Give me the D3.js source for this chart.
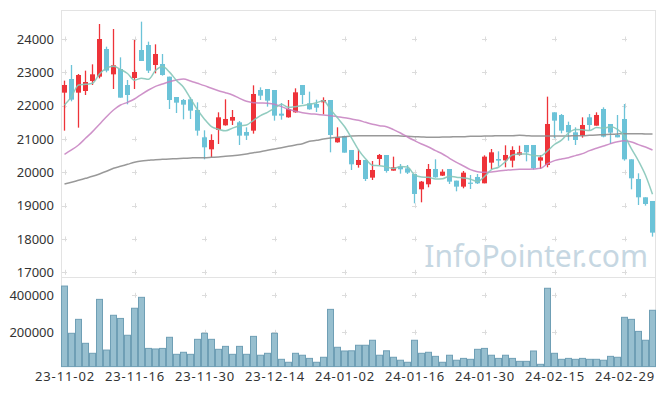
<!DOCTYPE html>
<html><head><meta charset="utf-8">
<script src="https://cdn.jsdelivr.net/npm/d3@7"></script>
<style>html,body{margin:0;padding:0;background:#fff;}svg{display:block;}</style>
</head><body><svg id="c" width="665" height="396"></svg>
<script>
const dates = ["23-11-02","23-11-03","23-11-06","23-11-07","23-11-08","23-11-09","23-11-10","23-11-13","23-11-14","23-11-15","23-11-16","23-11-17","23-11-20","23-11-21","23-11-22","23-11-23","23-11-24","23-11-27","23-11-28","23-11-29","23-11-30",
"23-12-01","23-12-04","23-12-05","23-12-06","23-12-07","23-12-08","23-12-11","23-12-12","23-12-13","23-12-14","23-12-15","23-12-18","23-12-19","23-12-20","23-12-21","23-12-22","23-12-26","23-12-27","23-12-28",
"24-01-02","24-01-03","24-01-04","24-01-05","24-01-08","24-01-09","24-01-10","24-01-11","24-01-12","24-01-15","24-01-16","24-01-17","24-01-18","24-01-19","24-01-22","24-01-23","24-01-24","24-01-25","24-01-26","24-01-29","24-01-30","24-01-31",
"24-02-01","24-02-02","24-02-05","24-02-06","24-02-07","24-02-08","24-02-13","24-02-14","24-02-15","24-02-16","24-02-19","24-02-20","24-02-21","24-02-22","24-02-23","24-02-26","24-02-27","24-02-28","24-02-29",
"24-03-04","24-03-05","24-03-06","24-03-07"];
const openP  = [22390,22800,22390,22440,22740,22870,23700,22940,23100,22620,22830,23670,23820,23220,23250,22870,22260,22170,22190,21870,21050,20690,21270,21410,21550,21500,21210,21250,22470,22500,22470,21760,21650,21800,22620,22070,22050,22100,22170,20900,21090,20670,20220,20370,19840,20400,20520,20050,20170,20120,19950,19490,19640,20100,19900,20100,19750,19570,19690,19860,19670,20290,20400,20360,20350,20520,20820,20820,20350,20220,21800,21720,21420,21200,21100,21650,21400,21900,21450,21120,21600,20390,19800,19250,19140];
const highP  = [22750,23220,22950,23050,23240,24450,23770,24300,23450,22770,23970,24520,23920,23840,23550,22870,22260,22200,22250,22100,21260,21140,21800,22190,21870,21540,21350,22610,22550,22500,22470,22080,22170,22520,22620,22420,22180,22250,22170,21350,21100,20670,20680,20370,20340,20550,20520,20470,20250,20220,19950,19740,20250,20390,20090,20100,19750,20040,19920,19950,20510,20700,20630,20810,20780,20800,20820,20820,20520,22270,21800,21750,21520,21350,21650,21750,21800,21950,21450,21720,22050,20390,19970,19250,19140];
const lowP   = [21250,22130,21340,22320,22620,22820,23000,22500,22240,22040,22500,23340,22980,22970,22900,21900,21780,21590,21600,21100,20390,20450,20850,21400,21420,20820,20970,21160,22170,21970,21550,21580,21640,21790,22050,21880,21810,21740,20600,20890,20590,20070,20140,19740,19770,20220,19990,20050,19960,19950,19070,19100,19550,19840,19890,19650,19430,19520,19500,19650,19670,20100,20180,20150,20150,20500,20330,20080,20100,20150,21020,21170,20950,20820,21040,21270,21400,21050,20850,21050,20350,19490,19020,19000,18070];
const closeP = [22620,22180,22920,22710,22940,24000,23050,23210,22240,22320,23010,23340,23050,23550,22920,22170,22090,22030,21850,21250,20750,20970,21650,21600,21660,21100,21100,22350,22300,22150,21700,21700,21900,22400,22320,21890,21940,22170,21120,21050,20590,20240,20370,19800,20070,20520,20040,20150,20090,19990,19350,19720,20100,19850,20020,19720,19570,19990,19670,19670,20470,20600,20350,20520,20670,20600,20600,20120,20450,21450,21550,21250,21200,20970,21420,21420,21720,21070,21190,21050,20390,19820,19250,19050,18190];
const volume = [450000,194600,270000,140500,86500,378000,104000,292000,275000,184000,330000,389000,113000,110000,113000,173000,81000,92000,81000,162000,194600,162000,108000,124000,81000,124000,81000,178000,76000,86500,194600,54000,38000,86500,76000,59000,38000,65000,324000,119000,99000,100000,130000,130000,157000,76000,100000,65000,49000,38000,157000,86500,92000,70000,38000,76000,49000,59000,54000,108000,113000,76000,59000,76000,59000,43000,43000,99000,27000,438000,86500,54000,59000,54000,59000,54000,54000,49000,70000,65000,281000,270000,205000,157000,319000];
const ma5  = [22020,22270,22620,22640,22674,22950,23124,23182,23088,22964,22766,22824,22792,23054,23174,23006,22756,22552,22212,21878,21594,21370,21294,21244,21326,21396,21422,21562,21702,21800,21920,22040,21950,21970,22004,22042,22090,22144,21888,21634,21374,21034,20674,20410,20214,20200,20160,20116,20174,20158,19924,19860,19850,19802,19808,19882,19852,19830,19794,19724,19874,20080,20152,20322,20522,20548,20548,20502,20488,20644,20834,20964,21180,21284,21278,21252,21346,21320,21364,21290,21084,20704,20340,19912,19340];
const ma20 = [20540,20670,20820,21020,21220,21440,21670,21870,22020,22100,22200,22340,22470,22580,22650,22720,22770,22800,22740,22670,22600,22520,22450,22390,22320,22220,22130,22090,22080,22070,22040,21970,21890,21830,21790,21760,21740,21720,21700,21670,21640,21600,21560,21500,21440,21400,21370,21280,21180,21060,20950,20850,20760,20650,20550,20420,20300,20190,20080,20020,20000,20010,20040,20060,20080,20090,20090,20100,20120,20260,20350,20400,20440,20500,20560,20650,20720,20790,20860,20920,20950,20910,20830,20760,20670];
const ma60 = [19650,19700,19760,19820,19880,19950,20030,20120,20180,20240,20300,20340,20360,20380,20390,20400,20410,20420,20430,20440,20440,20450,20460,20480,20500,20520,20550,20590,20620,20660,20700,20740,20780,20820,20860,20930,20960,21000,21030,21050,21070,21090,21100,21100,21100,21100,21100,21100,21090,21080,21070,21060,21050,21050,21060,21060,21070,21070,21080,21080,21090,21090,21100,21100,21100,21110,21100,21090,21090,21090,21090,21090,21090,21100,21100,21110,21120,21130,21140,21150,21160,21160,21160,21150,21150];
const xTickLabels = ["23-11-02","23-11-16","23-11-30","23-12-14","24-01-02","24-01-16","24-01-30","24-02-15","24-02-29"];
const priceTicks = [17000,18000,19000,20000,21000,22000,23000,24000];
const volTicks = [200000,400000];

const svg = d3.select("#c");
const L = 61, R = 656, T = 10, MID = 277.5, B = 366.6;
const x = d3.scaleBand().domain(dates).range([L, R]).padding(0);
const cx = d => x(d) + x.bandwidth() / 2;
const y = d3.scaleLinear().domain([17000, 24000]).range([272.3, 39]);
const yv = d3.scaleLinear().domain([0, 400000]).range([369.3, 295.3]);
const font = "'Noto Sans', 'DejaVu Sans', sans-serif";
const gridC = "#dcdcdc", borderC = "#e3e3e3";

svg.append("rect").attr("width", 665).attr("height", 396).attr("fill", "#fff");

// watermark
svg.append("text").attr("x", 648).attr("y", 267).attr("text-anchor", "end")
  .attr("font-family", font).attr("font-size", 30).attr("fill", "#c6d7e2").text("InfoPointer.com");

// borders
const bg = svg.append("g").attr("stroke", borderC).attr("stroke-width", 1).attr("fill", "none");
bg.append("line").attr("x1", L).attr("x2", R - 0.5).attr("y1", T + 0.5).attr("y2", T + 0.5);
bg.append("line").attr("x1", L).attr("x2", R - 0.5).attr("y1", MID).attr("y2", MID);
bg.append("line").attr("x1", L + 0.5).attr("x2", L + 0.5).attr("y1", T).attr("y2", B);
bg.append("line").attr("x1", R - 0.5).attr("x2", R - 0.5).attr("y1", T).attr("y2", B);

// grid crosses
const gx = xTickLabels.map(l => cx(l));
const gys = priceTicks.map(v => y(v)).concat(volTicks.map(v => yv(v)));
const gg = svg.append("g").attr("stroke", gridC).attr("stroke-width", 1);
gx.forEach(px => gys.forEach(py => {
  gg.append("line").attr("x1", px - 2.5).attr("x2", px + 2.5).attr("y1", Math.round(py) + 0.5).attr("y2", Math.round(py) + 0.5);
  gg.append("line").attr("x1", Math.round(px) + 0.5).attr("x2", Math.round(px) + 0.5).attr("y1", py - 2.5).attr("y2", py + 2.5);
}));

// y axis labels
const yl = svg.append("g").attr("font-family", font).attr("font-size", 13).attr("fill", "#333").attr("text-anchor", "end");
priceTicks.forEach(v => yl.append("text").attr("x", 54).attr("y", y(v)).attr("dy", "0.36em").text(v));
volTicks.forEach(v => yl.append("text").attr("x", 54).attr("y", yv(v)).attr("dy", "0.36em").text(v));

// x axis labels
const xl = svg.append("g").attr("font-family", font).attr("font-size", 13).attr("fill", "#333")
  .attr("text-anchor", "middle").attr("letter-spacing", "0.9px");
xTickLabels.forEach(l => xl.append("text").attr("x", cx(l) + 0.5).attr("y", 381).text(l));

// volume bars
svg.append("g").selectAll("rect").data(dates).join("rect")
  .attr("x", d => x(d) + 0.5).attr("width", x.bandwidth() - 1)
  .attr("y", (d, i) => yv(volume[i])).attr("height", (d, i) => Math.max(0, B - yv(volume[i])))
  .attr("fill", "#97bfcf").attr("stroke", "#6f9fb5").attr("stroke-width", 1);

// candles
const up = "#ee3339", down = "#6cc3d8";
const cg = svg.append("g");
dates.forEach((d, i) => {
  const col = closeP[i] >= openP[i] ? up : down;
  cg.append("line").attr("x1", cx(d)).attr("x2", cx(d)).attr("y1", y(highP[i])).attr("y2", y(lowP[i]))
    .attr("stroke", col).attr("stroke-width", 1.3);
  const top = y(Math.max(openP[i], closeP[i])), bot = y(Math.min(openP[i], closeP[i]));
  cg.append("rect").attr("x", cx(d) - 2.5).attr("width", 5).attr("y", top).attr("height", Math.max(1.2, bot - top)).attr("fill", col);
});

// moving averages
const line = arr => d3.line().x((v, i) => cx(dates[i])).y(v => y(v)).curve(d3.curveMonotoneX)(arr);
svg.append("path").attr("d", line(ma60)).attr("fill", "none").attr("stroke", "#8e8e8e").attr("stroke-width", 1.5).attr("opacity", 0.9);
svg.append("path").attr("d", line(ma20)).attr("fill", "none").attr("stroke", "#c67fc0").attr("stroke-width", 1.5).attr("opacity", 0.85);
svg.append("path").attr("d", line(ma5)).attr("fill", "none").attr("stroke", "#86c7b9").attr("stroke-width", 1.5).attr("opacity", 0.9);
</script></body></html>
